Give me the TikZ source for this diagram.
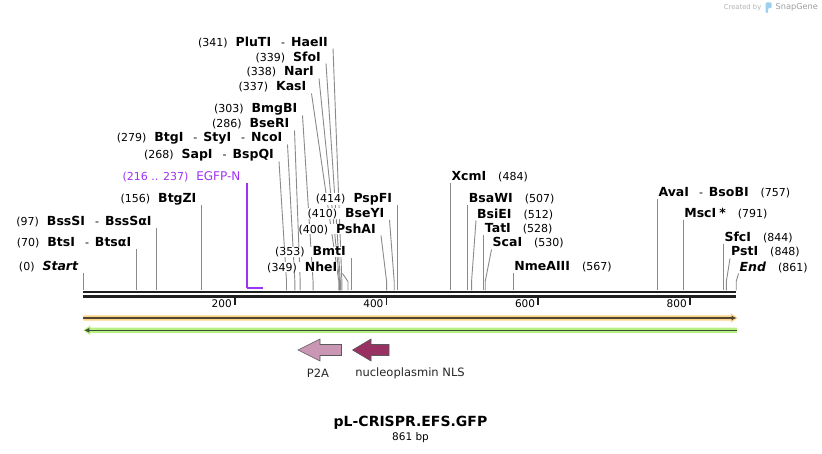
\documentclass[tikz,border=0pt]{standalone}
\usepackage{fontspec}
\setmainfont{DejaVu Sans}
\usetikzlibrary{arrows.meta, calc, backgrounds}

\definecolor{cutgray}{HTML}{8A8A8A}
\definecolor{featpurple}{HTML}{A033F0}
\definecolor{fwdlight}{HTML}{FDD384}
\definecolor{fwddark}{HTML}{4F4636}
\definecolor{revlight}{HTML}{B9F084}
\definecolor{revdark}{HTML}{3D4C34}
\definecolor{ptwoa}{HTML}{C996B4}
\definecolor{nlsfill}{HTML}{9A3163}
\definecolor{snapblue}{HTML}{9CCFF0}

\newcommand{\enz}[1]{{\fontsize{12.5}{14}\selectfont\bfseries #1}}
\newcommand{\lgap}{\hspace{8pt}}
\newcommand{\rgap}{\hspace{12pt}}
\newcommand{\sep}{\hspace{10pt}-\hspace{6pt}}

\begin{document}
\begin{tikzpicture}[x=1pt, y=-1pt, every node/.style={font=\fontsize{11}{13}\selectfont, inner sep=0pt},
  enzl/.style={anchor=east, fill=white}, enzr/.style={anchor=west, fill=white},
  cut/.style={draw=cutgray, line width=0.9pt},
  declare function={bp(\n)=83.3+0.7583*\n;}]
  \useasboundingbox (0,0) rectangle (822,454);

  % backbone
  \coordinate (bbL) at ({bp(0)},292);
  \coordinate (bbR) at ({bp(861)},292);
  \draw[line width=2.7pt, black!88] (bbL) -- (bbR);
  \draw[line width=2.7pt, black!88] ($(bbL)+(0,4.3)$) -- ($(bbR)+(0,4.3)$);
  \foreach \t in {200,400,600,800} {
    \draw[line width=1.6pt, black!88] ({bp(\t)},297.5) -- ({bp(\t)},305);
    \node[anchor=east, font=\fontsize{10.5}{12}\selectfont] (tick\t) at ({bp(\t)-3},303.5) {\t};
  }

  % sites on the backbone
  \foreach \n in {0,70,97,156,268,279,286,303,337,338,339,341,349,353,400,410,414,484,507,512,528,530,567,757,791,844,848,861}
    \coordinate (s\n) at ({bp(\n)},290.5);

  % left labels
  \node[enzl] (start) at ({bp(0)-5},267) {(0)\lgap\enz{\itshape Start}};
  \node[enzl] (btsi) at ({bp(70)-5},243) {(70)\lgap\enz{BtsI}\sep\enz{BtsαI}};
  \node[enzl] (bsssi) at ({bp(97)-5},222) {(97)\lgap\enz{BssSI}\sep\enz{BssSαI}};
  \node[enzl] (btgzi) at ({bp(156)-5},199) {(156)\lgap\enz{BtgZI}};
  \node[enzl] (sapi) at (274,155) {(268)\lgap\enz{SapI}\sep\enz{BspQI}};
  \node[enzl] (btgi) at (282.5,138) {(279)\lgap\enz{BtgI}\sep\enz{StyI}\sep\enz{NcoI}};
  \node[enzl] (bseri) at (289.5,124) {(286)\lgap\enz{BseRI}};
  \node[enzl] (bmgbi) at (297.5,109) {(303)\lgap\enz{BmgBI}};
  \node[enzl] (kasi) at (306.5,87) {(337)\lgap\enz{KasI}};
  \node[enzl] (nari) at (314,72) {(338)\lgap\enz{NarI}};
  \node[enzl] (sfoi) at (321,57) {(339)\lgap\enz{SfoI}};
  \node[enzl] (pluti) at (328,42) {(341)\lgap\enz{PluTI}\sep\enz{HaeII}};
  \node[enzl] (nhei) at (337.5,267) {(349)\lgap\enz{NheI}};
  \node[enzl] (bmti) at ({bp(353)-5},252) {(353)\lgap\enz{BmtI}};
  \node[enzl] (pshai) at (376,229) {(400)\lgap\enz{PshAI}};
  \node[enzl] (bseyi) at (384.5,213.5) {(410)\lgap\enz{BseYI}};
  \node[enzl] (pspfi) at ({bp(414)-5},199) {(414)\lgap\enz{PspFI}};

  % right labels
  \node[enzr] (xcmi) at ({bp(484)+1},176.5) {\enz{XcmI}\rgap(484)};
  \node[enzr] (bsawi) at ({bp(507)+1},199) {\enz{BsaWI}\rgap(507)};
  \node[enzr] (bsiei) at (477,214) {\enz{BsiEI}\rgap(512)};
  \node[enzr] (tati) at ({bp(528)+1},228.5) {\enz{TatI}\rgap(528)};
  \node[enzr] (scai) at (492.5,243) {\enz{ScaI}\rgap(530)};
  \node[enzr] (nmeaiii) at ({bp(567)+1},267) {\enz{NmeAIII}\rgap(567)};
  \node[enzr] (avai) at ({bp(757)+1},192.5) {\enz{AvaI}\sep\enz{BsoBI}\rgap(757)};
  \node[enzr] (msci) at ({bp(791)+1},214) {\enz{MscI\hspace{3pt}*}\rgap(791)};
  \node[enzr] (sfci) at ({bp(844)+1},237.5) {\enz{SfcI}\rgap(844)};
  \node[enzr] (psti) at (731,252) {\enz{PstI}\rgap(848)};
  \node[enzr] (end) at (739.5,267) {\enz{\itshape End}\rgap(861)};

  % cut lines
  \begin{pgfonlayer}{background}
  \draw[cut] ($(start.east)+(5,6.5)$) -- (s0);
  \draw[cut] ($(btsi.east)+(5,6.5)$) -- (s70);
  \draw[cut] ($(bsssi.east)+(5,6.5)$) -- (s97);
  \draw[cut] ($(btgzi.east)+(5,6.5)$) -- (s156);
  \draw[cut] ($(sapi.east)+(5,6.5)$) -- ($(s268)+(0,-9)$) -- (s268);
  \draw[cut] ($(btgi.east)+(5,6.5)$) -- ($(s279)+(0,-9)$) -- (s279);
  \draw[cut] ($(bseri.east)+(5,6.5)$) -- ($(s286)+(0,-9)$) -- (s286);
  \draw[cut] ($(bmgbi.east)+(5,6.5)$) -- ($(s303)+(0,-9)$) -- (s303);
  \draw[cut] ($(kasi.east)+(5,6.5)$) -- ($(s337)+(0,-9)$) -- (s337);
  \draw[cut] ($(nari.east)+(5,6.5)$) -- ($(s338)+(0,-9)$) -- (s338);
  \draw[cut] ($(sfoi.east)+(5,6.5)$) -- ($(s339)+(0,-9)$) -- (s339);
  \draw[cut] ($(pluti.east)+(5,6.5)$) -- ($(s341)+(0,-9)$) -- (s341);
  \draw[cut] ($(nhei.east)+(5,6.5)$) -- ($(s349)+(0,-9)$) -- (s349);
  \draw[cut] ($(bmti.east)+(5,6.5)$) -- (s353);
  \draw[cut] ($(pshai.east)+(5,6.5)$) -- ($(s400)+(0,-9)$) -- (s400);
  \draw[cut] ($(bseyi.east)+(5,6.5)$) -- ($(s410)+(0,-9)$) -- (s410);
  \draw[cut] ($(pspfi.east)+(5,6.5)$) -- (s414);
  \draw[cut] ($(xcmi.west)+(-1,6.5)$) -- (s484);
  \draw[cut] ($(bsawi.west)+(-1,6.5)$) -- (s507);
  \draw[cut] ($(bsiei.west)+(-1,6.5)$) -- ($(s512)+(0,-9)$) -- (s512);
  \draw[cut] ($(tati.west)+(-1,6.5)$) -- (s528);
  \draw[cut] ($(scai.west)+(-1,6.5)$) -- ($(s530)+(0,-9)$) -- (s530);
  \draw[cut] ($(nmeaiii.west)+(-1,6.5)$) -- (s567);
  \draw[cut] ($(avai.west)+(-1,6.5)$) -- (s757);
  \draw[cut] ($(msci.west)+(-1,6.5)$) -- (s791);
  \draw[cut] ($(sfci.west)+(-1,6.5)$) -- (s844);
  \draw[cut] ($(psti.west)+(-1,6.5)$) -- ($(s848)+(0,-9)$) -- (s848);
  \draw[cut] ($(end.west)+(-1,6.5)$) -- ($(s861)+(0,-9)$) -- (s861);
  \end{pgfonlayer}

  % EGFP-N primer
  \node[enzl, text=featpurple, font=\fontsize{12}{14}\selectfont] (egfp) at ({bp(216)-6.5},177) {{\fontsize{11}{13}\selectfont(216 .. 237)}\lgap EGFP-N};
  \coordinate (egfpA) at ({bp(216)},288);
  \coordinate (egfpB) at ({bp(237)},288);
  \draw[featpurple, line width=1.3pt] ($(egfp.east)+(6.5,6.5)$) -- (egfpA);
  \draw[featpurple, line width=2pt] (egfpA) -- (egfpB);

  % strands
  \fill[fwdlight] (83.3,315.3) -- (731,315.3) -- (731,313.3) -- (737.5,318) -- (731,322.7) -- (731,320.7) -- (83.3,320.7) -- cycle;
  \draw[fwddark, line width=1.4pt, -{Latex[length=5pt,width=5pt]}] (83.3,318) -- (736.5,318);
  \fill[revlight] (737,327.6) -- (90,327.6) -- (90,325.6) -- (83.3,330.3) -- (90,335) -- (90,333) -- (737,333) -- cycle;
  \draw[revdark, line width=1.4pt, -{Latex[length=5pt,width=5pt]}] (736.8,330.3) -- (84.3,330.3);

  % features
  \draw[fill=ptwoa, draw=black!65, line width=0.6pt] (298,350) -- (320,339) -- (320,344.5) -- (341.5,344.5) -- (341.5,355.5) -- (320,355.5) -- (320,361) -- cycle;
  \draw[fill=nlsfill, draw=black!65, line width=0.6pt] (352.5,350) -- (371,339) -- (371,344.5) -- (389,344.5) -- (389,355.5) -- (371,355.5) -- (371,361) -- cycle;
  \node[font=\fontsize{11.5}{13}\selectfont, text=black!85] (p2a) at (318,373) {P2A};
  \node[font=\fontsize{11.5}{13}\selectfont, text=black!85] (nls) at (410,373) {nucleoplasmin NLS};

  % title
  \node[font=\fontsize{14}{16}\selectfont\bfseries] (title) at (410.5,423) {pL-CRISPR.EFS.GFP};
  \node[font=\fontsize{10.5}{12}\selectfont] (size) at (410.5,438) {861 bp};

  % watermark
  \node[anchor=east, font=\fontsize{6.8}{8}\selectfont, text=black!30] (created) at (761.5,7.5) {Created by};
  \fill[snapblue, rounded corners=1pt] (765.5,2.5) -- (771.5,2.5) -- (771.5,8) -- (768,8) -- (768,13) -- (765.5,13) -- cycle;
  \node[anchor=west, font=\fontsize{8.2}{10}\selectfont, text=black!38] (snapgene) at (775.5,7.5) {SnapGene};
\end{tikzpicture}
\end{document}
